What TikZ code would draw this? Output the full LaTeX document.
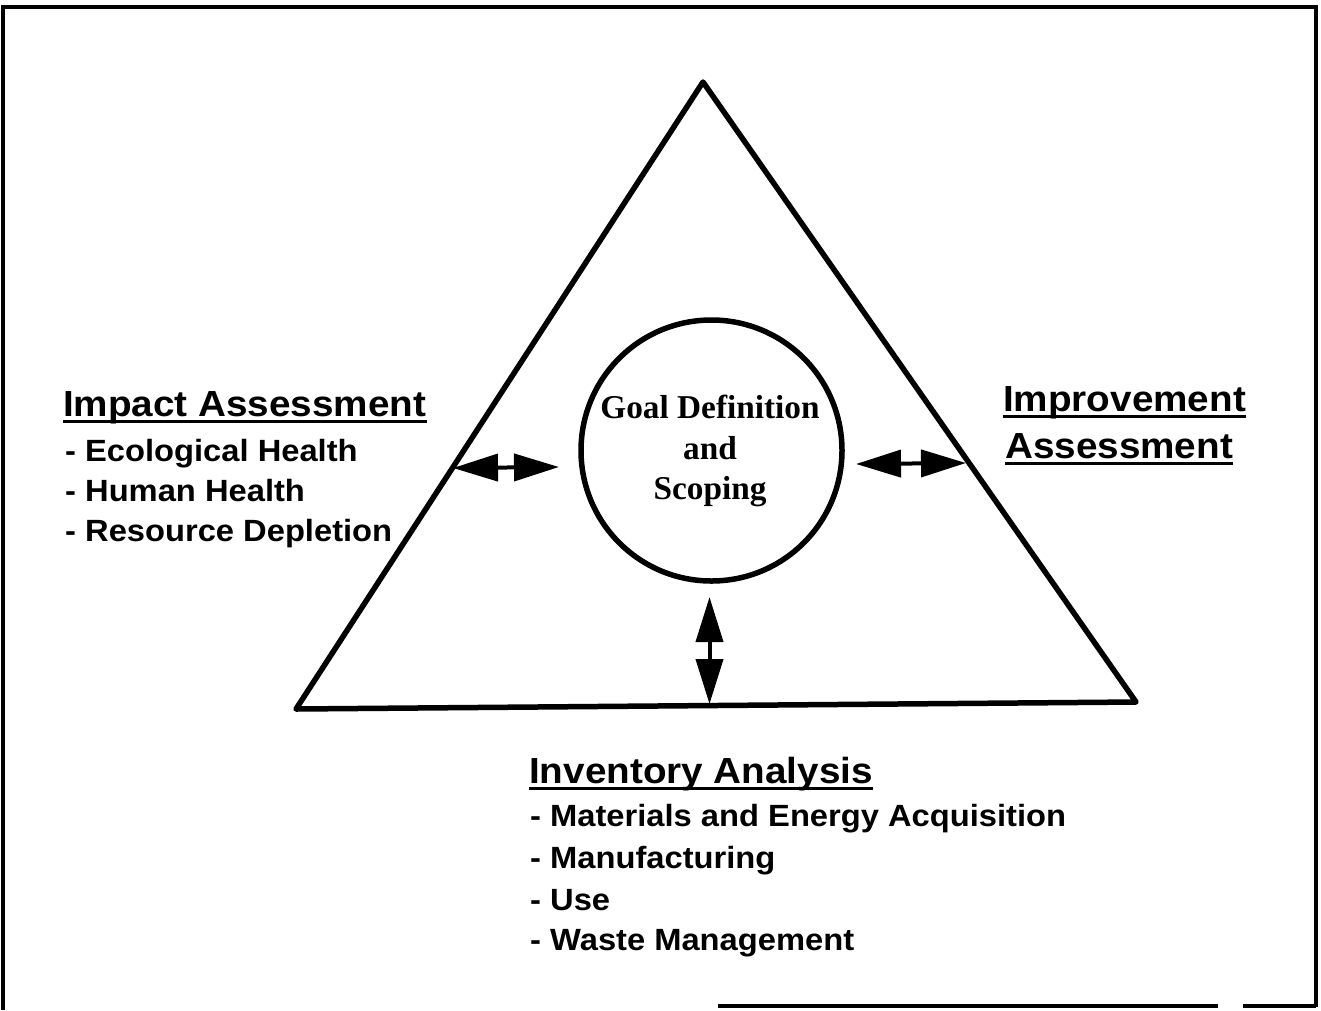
\documentclass[tikz,border=0pt]{standalone}
\usepackage{fontspec}
\setmainfont{Liberation Serif}
\newfontfamily\hsf[FakeStretch=1.065]{Liberation Sans}
\usetikzlibrary{arrows.meta}
\begin{document}
\begin{tikzpicture}[x=1pt,y=-1pt,
  head/.style={anchor=base west,inner sep=0pt,font=\hsf\bfseries\fontsize{36.3}{40}\selectfont},
  item/.style={anchor=base west,inner sep=0pt,font=\hsf\bfseries\fontsize{30.7}{34}\selectfont},
  goaltxt/.style={anchor=base,inner sep=0pt,font=\bfseries\fontsize{33.3}{36}\selectfont},
  uline/.style={line width=3pt},
  dbl/.style={line width=4pt,{Triangle[length=45pt,width=27pt]}-{Triangle[length=45pt,width=27pt]}},
  frame/.style={line width=3.5pt},
  thick5/.style={line width=5.5pt,line join=round}]
\useasboundingbox (0,0) rectangle (1321,1010);
% frame
\draw[frame] (3,1010) -- (3,7) -- (1316,7) -- (1316,1007);
\draw[frame] (718,1006) -- (1218,1006);
\draw[frame] (1243,1006) -- (1316,1006);
% triangle
\coordinate (apex) at (703,82);
\coordinate (bl) at (296,709);
\coordinate (br) at (1136,702);
\draw[thick5] (apex) -- (bl) -- (br) -- cycle;
% circle
\node[circle,draw,line width=5.5pt,minimum size=261pt,inner sep=0pt] (goal) at (711.5,450.5) {};
\node[goaltxt] (g1) at (710,418) {Goal Definition};
\node[goaltxt] (g2) at (710,459) {and};
\node[goaltxt] (g3) at (710,499) {Scoping};
% arrows
\coordinate (la) at (453,468);
\coordinate (lb) at (559,467);
\coordinate (ra) at (856,464);
\coordinate (rb) at (966,463);
\coordinate (ba) at (709.5,597);
\coordinate (bb) at (709.5,704);
\draw[dbl] (la) -- (lb);
\draw[dbl] (ra) -- (rb);
\draw[dbl] (ba) -- (bb);
% impact assessment
\node[head] (impH) at (63,416) {Impact Assessment};
\draw[uline] ([yshift=-5pt]impH.base west) -- ([yshift=-5pt]impH.base east);
\node[item] (imp1) at (65,461) {- Ecological Health};
\node[item] (imp2) at (65,501) {- Human Health};
\node[item] (imp3) at (65,541) {- Resource Depletion};
% improvement assessment
\node[head] (imprA) at (1003,411) {Improvement};
\draw[uline] ([yshift=-5pt]imprA.base west) -- ([yshift=-5pt]imprA.base east);
\node[head] (imprB) at (1005,458) {Assessment};
\draw[uline] ([yshift=-5pt]imprB.base west) -- ([yshift=-5pt]imprB.base east);
% inventory analysis
\node[head] (invH) at (529,783) {Inventory Analysis};
\draw[uline] ([yshift=-5pt]invH.base west) -- ([yshift=-5pt]invH.base east);
\node[item] (inv1) at (530,826) {- Materials and Energy Acquisition};
\node[item] (inv2) at (530,868) {- Manufacturing};
\node[item] (inv3) at (530,910) {- Use};
\node[item] (inv4) at (530,950) {- Waste Management};
\end{tikzpicture}
\end{document}
